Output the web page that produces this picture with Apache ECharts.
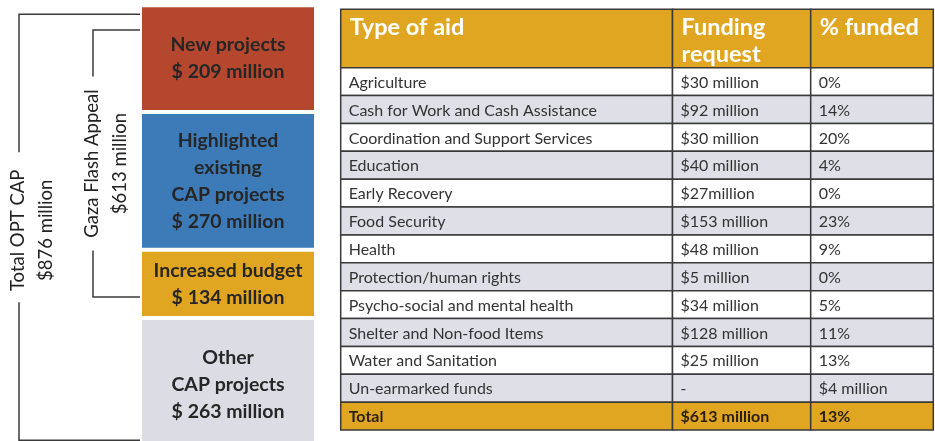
<!DOCTYPE html>
<html><head><meta charset="utf-8">
<script src="https://cdn.jsdelivr.net/npm/echarts@6/dist/echarts.min.js"></script>
<style>html,body{margin:0;padding:0;background:#fff}#c{width:935px;height:441px}</style>
</head><body><div id="c"></div>
<script>
// ---------- data ----------
const segmentNames = ['New projects', 'Highlighted\nexisting\nCAP projects', 'Increased budget', 'Other\nCAP projects'];
const segmentValues = [209, 270, 134, 263];
const bracketNames = ['Total OPT CAP', 'Gaza Flash Appeal'];
const bracketValues = [876, 613];
const bracketAmounts = ['$876 million', '$613 million'];
const tableHeaders = ['Type of aid', 'Funding\nrequest', '% funded'];
const aidTypes = ['Agriculture', 'Cash for Work and Cash Assistance', 'Coordination and Support Services', 'Education', 'Early Recovery', 'Food Security', 'Health', 'Protection/human rights', 'Psycho-social and mental health', 'Shelter and Non-food Items', 'Water and Sanitation', 'Un-earmarked funds', 'Total'];
const fundingRequests = ['$30 million', '$92 million', '$30 million', '$40 million', '$27million', '$153 million', '$48 million', '$5 million', '$34 million', '$128 million', '$25 million', '-', '$613 million'];
const percentFunded = ['0%', '14%', '20%', '4%', '0%', '23%', '9%', '0%', '5%', '11%', '13%', '$4 million', '13%'];

// ---------- style / layout ----------
const FONT = 'Lato, "Open Sans", sans-serif';
const segmentColors = ['#b5472f', '#3c7bb8', '#e0a622', '#dcdde4'];
const YELLOW = '#e0a622', ROWGRAY = '#dfe0e7', LINE = '#3a3a3a';
const colEdges = [0, 331.8, 470, 592.6];
const bracketLayout = [
  { dx: -123, topInset: 9, bottomInset: -12, gap: 75, textDx: 13, textDy: 3 },
  { dx: -49, topInset: 24.7, bottomInset: -21, gap: 87, textDx: 13, textDy: 0 }
];
const columns = [aidTypes, fundingRequests, percentFunded];

const chart = echarts.init(document.getElementById('c'), null, { renderer: 'canvas' });

const barSeries = segmentNames.map((name, i) => ({
  type: 'bar', name: name, stack: 'cap', xAxisIndex: 0, yAxisIndex: 0,
  barWidth: '100%', data: [segmentValues[i]], silent: true,
  itemStyle: { color: segmentColors[i], borderColor: '#fff', borderWidth: 2 },
  label: {
    show: true, position: 'inside',
    formatter: () => name + '\n$ ' + segmentValues[i] + ' million',
    color: '#262626', fontFamily: FONT, fontWeight: 'bold', fontSize: 19.5, lineHeight: 27
  }
}));

const bracketSeries = {
  type: 'custom', xAxisIndex: 0, yAxisIndex: 0, silent: true, clip: false,
  data: bracketValues.map(v => [0, v]),
  renderItem: function (params, api) {
    const i = params.dataIndex, L = bracketLayout[i];
    const bandW = api.size([1, 0])[0];
    const barLeft = api.coord([0, 0])[0] - bandW / 2 + 2;
    const x = barLeft + L.dx;
    const y0 = api.coord([0, 0])[1] + L.topInset;
    const y1 = api.coord([0, api.value(1)])[1] + L.bottomInset;
    const mid = (y0 + y1) / 2;
    const ls = { stroke: LINE, lineWidth: 1.5, fill: null };
    return {
      type: 'group', children: [
        { type: 'polyline', shape: { points: [[barLeft, y0], [x, y0], [x, mid - L.gap]] }, style: ls },
        { type: 'polyline', shape: { points: [[x, mid + L.gap], [x, y1], [barLeft, y1]] }, style: ls },
        { type: 'text', x: x + L.textDx, y: mid + L.textDy, rotation: Math.PI / 2,
          style: { text: bracketNames[i] + '\n' + bracketAmounts[i], fill: '#222', fontSize: 18.5,
                   fontFamily: FONT, align: 'center', verticalAlign: 'middle', lineHeight: 28 } }
      ]
    };
  }
};

function cellRect(api, c, r) {
  const x0 = api.coord([colEdges[c], r])[0];
  const x1 = api.coord([colEdges[c + 1], r])[0];
  const yc = api.coord([0, r])[1];
  const h = api.size([0, 1])[1];
  return { x0, x1, yc, h, y0: yc - h / 2 };
}

const headerSeries = {
  type: 'custom', xAxisIndex: 1, yAxisIndex: 1, silent: true,
  data: tableHeaders.map((h, c) => [c, 0]),
  renderItem: function (params, api) {
    const c = api.value(0);
    const g = cellRect(api, c, 0);
    return {
      type: 'group', children: [
        { type: 'rect', shape: { x: g.x0, y: g.y0, width: g.x1 - g.x0, height: g.h },
          style: { fill: YELLOW, stroke: LINE, lineWidth: 1.5 } },
        { type: 'text', x: g.x0 + 9, y: g.y0 + 4.5,
          style: { text: tableHeaders[c], fill: '#fff', fontSize: 23.5, fontWeight: 'bold', fontFamily: FONT,
                   align: 'left', verticalAlign: 'top', lineHeight: 27 } }
      ]
    };
  }
};

const bodyData = [];
aidTypes.forEach((t, r) => { for (let c = 0; c < 3; c++) bodyData.push([c, r]); });

const bodySeries = {
  type: 'custom', xAxisIndex: 2, yAxisIndex: 2, silent: true,
  data: bodyData,
  renderItem: function (params, api) {
    const c = api.value(0), r = api.value(1);
    const g = cellRect(api, c, r);
    const isTotal = r === aidTypes.length - 1;
    const fill = isTotal ? YELLOW : (r % 2 === 1 ? ROWGRAY : '#ffffff');
    return {
      type: 'group', children: [
        { type: 'rect', shape: { x: g.x0, y: g.y0, width: g.x1 - g.x0, height: g.h },
          style: { fill: fill, stroke: LINE, lineWidth: 1.5 } },
        { type: 'text', x: g.x0 + 8, y: g.yc + 1,
          style: { text: columns[c][r], fill: isTotal ? '#2a1f0c' : '#333', fontSize: 16,
                   fontWeight: isTotal ? 'bold' : 'normal', fontFamily: FONT,
                   align: 'left', verticalAlign: 'middle' } }
      ]
    };
  }
};

chart.setOption({
  animation: false,
  backgroundColor: '#fff',
  grid: [
    { left: 140, top: 5.3, width: 176, height: 447, outerBoundsMode: 'none', containLabel: false },
    { left: 340.7, top: 9.3, width: 592.6, height: 58.4, outerBoundsMode: 'none' },
    { left: 340.7, top: 67.7, width: 592.6, height: 362.3, outerBoundsMode: 'none' }
  ],
  xAxis: [
    { gridIndex: 0, type: 'category', data: ['CAP'], show: false },
    { gridIndex: 1, type: 'value', min: 0, max: 592.6, show: false },
    { gridIndex: 2, type: 'value', min: 0, max: 592.6, show: false }
  ],
  yAxis: [
    { gridIndex: 0, type: 'value', min: 0, max: 876, inverse: true, show: false },
    { gridIndex: 1, type: 'category', data: ['header'], inverse: true, show: false },
    { gridIndex: 2, type: 'category', data: aidTypes, inverse: true, show: false }
  ],
  series: barSeries.concat([bracketSeries, headerSeries, bodySeries])
});
</script>
</body></html>
